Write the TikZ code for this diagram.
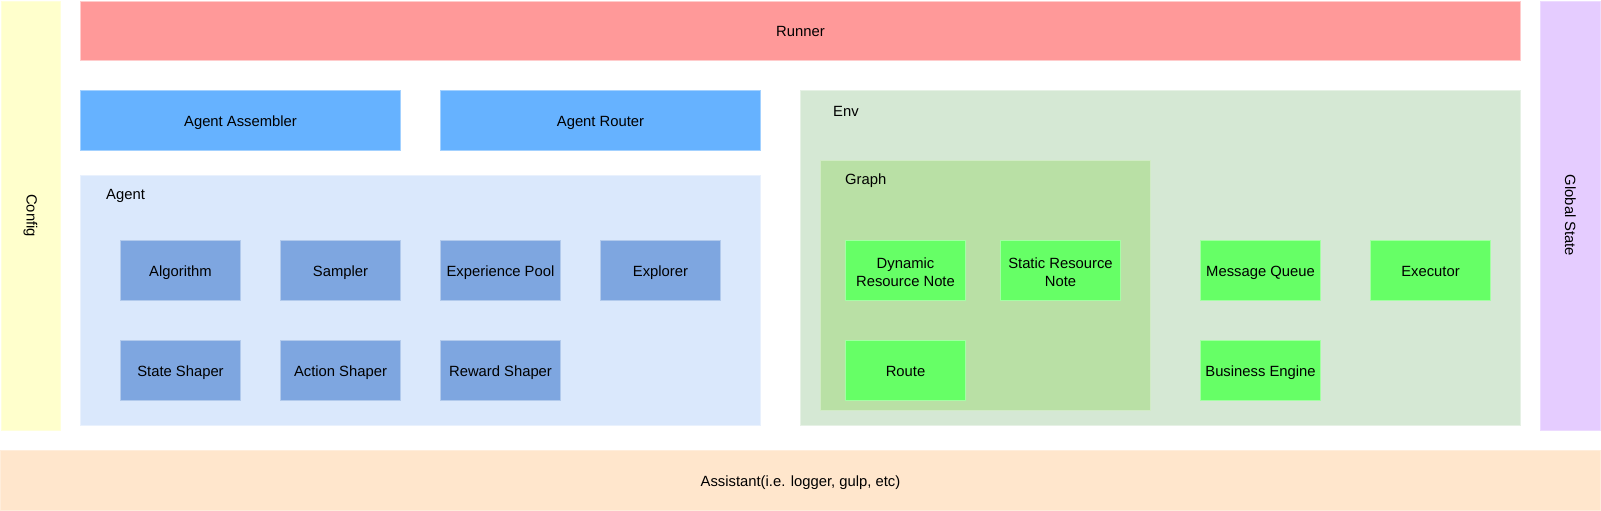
\documentclass[tikz,border=0pt]{standalone}
\usepackage{fontspec}
\setmainfont{Liberation Sans}
\definecolor{cfg}{HTML}{FFFFCC}
\definecolor{run}{HTML}{FF9999}
\definecolor{gst}{HTML}{E5CCFF}
\definecolor{ast}{HTML}{FFE6CC}
\definecolor{asm}{HTML}{66B2FF}
\definecolor{agbg}{HTML}{DAE8FC}
\definecolor{agit}{HTML}{7EA6E0}
\definecolor{envbg}{HTML}{D5E8D4}
\definecolor{grbg}{HTML}{B9E0A5}
\definecolor{grit}{HTML}{66FF66}
\tikzset{
  blk/.style={rectangle, inner sep=0pt, outer sep=0pt, line width=0.8pt, align=center,
    font=\fontsize{14.8}{18}\selectfont, text height=12.6pt, text depth=0pt},
  two/.style={text height=32.4pt, text depth=0pt},
  item/.style={blk, minimum width=120pt, minimum height=60pt},
  aitem/.style={item, fill=agit, draw=agit!60!white},
  gitem/.style={item, fill=grit, draw=grit!60!white},
  lbl/.style={inner sep=0pt, anchor=west, font=\fontsize{14.8}{18}\selectfont},
  vlbl/.style={rotate=-90, inner sep=0pt, font=\fontsize{14.8}{18}\selectfont}
}
\begin{document}
\begin{tikzpicture}[x=1pt,y=-1pt]
\useasboundingbox[fill=white] (0,0) rectangle (1601,511);
% side bars
\node[blk, fill=cfg, draw=cfg!70!white, minimum width=59pt, minimum height=429pt] (config) at (30.5,215.5) {};
\node[vlbl] (configt) at (config.center) {Config};
\node[blk, fill=gst, draw=gst!70!white, minimum width=60pt, minimum height=429pt] (gstate) at (1570.5,215.5) {};
\node[vlbl] (gstatet) at (gstate.center) {Global State};
\node[blk, fill=run, draw=run!50!white, minimum width=1440pt, minimum height=59pt] (runner) at (800.5,30.5) {Runner};
\node[blk, fill=ast, draw=ast!70!white, minimum width=1600pt, minimum height=60pt] (assist) at (800.5,480.5) {Assistant(i.e. logger, gulp, etc)};
% agent side
\node[blk, fill=asm, draw=asm!60!white, minimum width=320pt, minimum height=60pt] (assembler) at (240.5,120.5) {Agent Assembler};
\node[blk, fill=asm, draw=asm!60!white, minimum width=320pt, minimum height=60pt] (router) at (600.5,120.5) {Agent Router};
\node[blk, fill=agbg, draw=agbg!60!white, minimum width=680pt, minimum height=250pt] (agent) at (420.5,300.5) {};
\node[lbl] (agentl) at (106,196) {Agent};
\node[aitem] (algo) at (180.5,270.5) {Algorithm};
\node[aitem] (sampler) at (340.5,270.5) {Sampler};
\node[aitem] (exppool) at (500.5,270.5) {Experience Pool};
\node[aitem] (explorer) at (660.5,270.5) {Explorer};
\node[aitem] (sshaper) at (180.5,370.5) {State Shaper};
\node[aitem] (ashaper) at (340.5,370.5) {Action Shaper};
\node[aitem] (rshaper) at (500.5,370.5) {Reward Shaper};
% env side
\node[blk, fill=envbg, draw=envbg!60!white, minimum width=720pt, minimum height=335pt] (env) at (1160.5,257.5) {};
\node[lbl] (envl) at (833,111) {Env};
\node[blk, fill=grbg, draw=grbg!65!white, minimum width=330pt, minimum height=250pt] (graph) at (985.5,285.5) {};
\node[lbl] (graphl) at (845,181) {Graph};
\node[gitem, two] (dyn) at (905.5,270.5) {Dynamic\\Resource Note};
\node[gitem, two] (stat) at (1060.5,270.5) {Static Resource\\Note};
\node[gitem] (route) at (905.5,370.5) {Route};
\node[gitem] (mq) at (1260.5,270.5) {Message Queue};
\node[gitem] (exec) at (1430.5,270.5) {Executor};
\node[gitem] (be) at (1260.5,370.5) {Business Engine};
\end{tikzpicture}
\end{document}
